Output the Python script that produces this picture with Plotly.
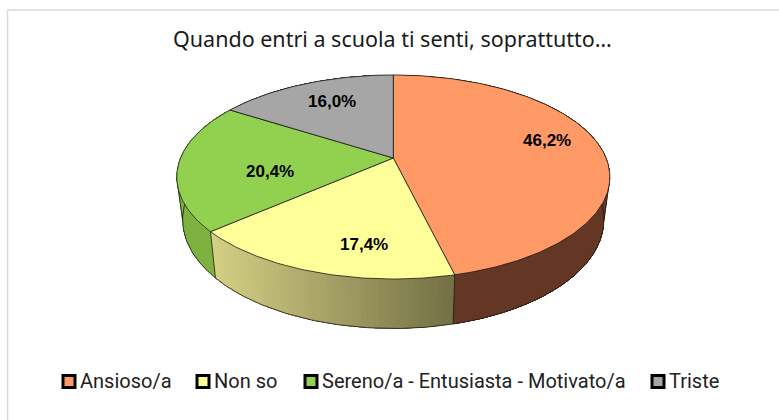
import math
import plotly.graph_objects as go

categories = ["Ansioso/a", "Non so", "Sereno/a - Entusiasta - Motivato/a", "Triste"]
values = [46.2, 17.4, 20.4, 16.0]
labels = ["46,2%", "17,4%", "20,4%", "16,0%"]
title_text = "Quando entri a scuola ti senti, soprattutto…"
top_colors = ["#FF9966", "#FFFF99", "#92D050", "#A6A6A6"]
side_left = [(106, 58, 38), (214, 208, 132), (125, 178, 64), (90, 90, 90)]
side_right = [(100, 55, 36), (116, 113, 70), (118, 170, 60), (90, 90, 90)]
label_x = [547, 364, 270, 332]
label_y = [140, 244, 171, 101]
legend_marker_x = [69, 203, 311, 658]
legend_text_x = [78, 212, 320, 667]

W, H = 779, 420
CX, K = 393.3, 0.186
DARK = "#1a1a1a"


def top_pt(t, r=1.0):
    u, v = r * math.sin(t), -r * math.cos(t)
    d = 1 - K * v
    return CX + 212.8 * u / d, 158 + 98.5 * v / d


def bot_pt(t):
    u, v = math.sin(t), -math.cos(t)
    d = 1 - K * v
    return CX + 207 * u / d, 199.5 + 105 * v / d


def mix(a, b, f):
    return "rgb(%d,%d,%d)" % tuple(round(a[i] + (b[i] - a[i]) * f) for i in range(3))


def line(xs, ys, width=0.8):
    fig.add_trace(go.Scatter(x=xs, y=ys, mode="lines", line=dict(color=DARK, width=width),
                             hoverinfo="skip", showlegend=False))


fig = go.Figure()
total = sum(values)
cum = 0
spans = []
for v in values:
    spans.append((cum / total * 2 * math.pi, (cum + v) / total * 2 * math.pi))
    cum += v

# Sides: each band runs to the end of its slice, the next band paints over it (no seams)
for i, (a0, a1) in enumerate(spans):
    n = 48
    xa, xb = bot_pt(a0)[0], bot_pt(a1)[0]
    for j in range(n):
        t0 = a0 + (a1 - a0) * j / n
        ts = [t0 + (a1 - t0) * m / 40 for m in range(41)]
        pts = [top_pt(t) for t in ts] + [bot_pt(t) for t in reversed(ts)]
        f = min(1, max(0, (bot_pt(t0)[0] - min(xa, xb)) / max(1, abs(xb - xa))))
        c = mix(side_left[i], side_right[i], f)
        fig.add_trace(go.Scatter(x=[q[0] for q in pts], y=[q[1] for q in pts], mode="none",
                                 fill="toself", fillcolor=c, hoverinfo="skip", showlegend=False))

# Outline of the sides: the hidden parts are covered by the top faces
rim = [2 * math.pi * j / 360 for j in range(361)]
line([bot_pt(t)[0] for t in rim], [bot_pt(t)[1] for t in rim])
for a0, a1 in spans:
    line([top_pt(a0)[0], bot_pt(a0)[0]], [top_pt(a0)[1], bot_pt(a0)[1]])
for pick in (min, max):
    t = pick(rim, key=lambda q: top_pt(q)[0])
    line([top_pt(t)[0], bot_pt(t)[0]], [top_pt(t)[1], bot_pt(t)[1]])

# Top faces
for i, (a0, a1) in enumerate(spans):
    n = max(20, int((a1 - a0) / 0.015))
    pts = [top_pt(0, 0)] + [top_pt(a0 + (a1 - a0) * j / n) for j in range(n + 1)] + [top_pt(0, 0)]
    fig.add_trace(go.Scatter(x=[q[0] for q in pts], y=[q[1] for q in pts], mode="lines",
                             fill="toself", fillcolor=top_colors[i],
                             line=dict(color=DARK, width=0.8), name=categories[i],
                             hoverinfo="name", showlegend=False))

for text, x, y in zip(labels, label_x, label_y):
    fig.add_annotation(x=x, y=y, text="<b>%s</b>" % text, showarrow=False,
                       font=dict(family="Liberation Sans", size=17, color="#000000"))

# Legend
fig.add_trace(go.Scatter(x=legend_marker_x, y=[381.5] * 4, mode="markers",
                         marker=dict(symbol="square", size=12, color=top_colors,
                                     line=dict(color="#000000", width=3)),
                         hoverinfo="skip", showlegend=False))
for name, x in zip(categories, legend_text_x):
    fig.add_annotation(x=x, y=381, text=name, showarrow=False, xanchor="left",
                       font=dict(family="Roboto", size=20, color="#222222"))

fig.add_annotation(x=392.5, y=38, text=title_text, showarrow=False,
                   font=dict(family="Noto Sans", size=21.5, color="#1a1a1a"))

fig.add_shape(type="line", x0=7.5, y0=10, x1=W, y1=10, line=dict(color="#D9D9D9", width=1.5))
fig.add_shape(type="line", x0=7.5, y0=10, x1=7.5, y1=H, line=dict(color="#D9D9D9", width=1.5))

fig.update_layout(width=W, height=H, autosize=False, margin=dict(l=0, r=0, t=0, b=0),
                  paper_bgcolor="white", plot_bgcolor="white", showlegend=False,
                  xaxis=dict(range=[0, W], visible=False, fixedrange=True),
                  yaxis=dict(range=[H, 0], visible=False, fixedrange=True))
fig.write_html("out.html", config={"displayModeBar": False},
               post_script="document.body.style.margin='0';document.body.style.overflow='hidden';")
